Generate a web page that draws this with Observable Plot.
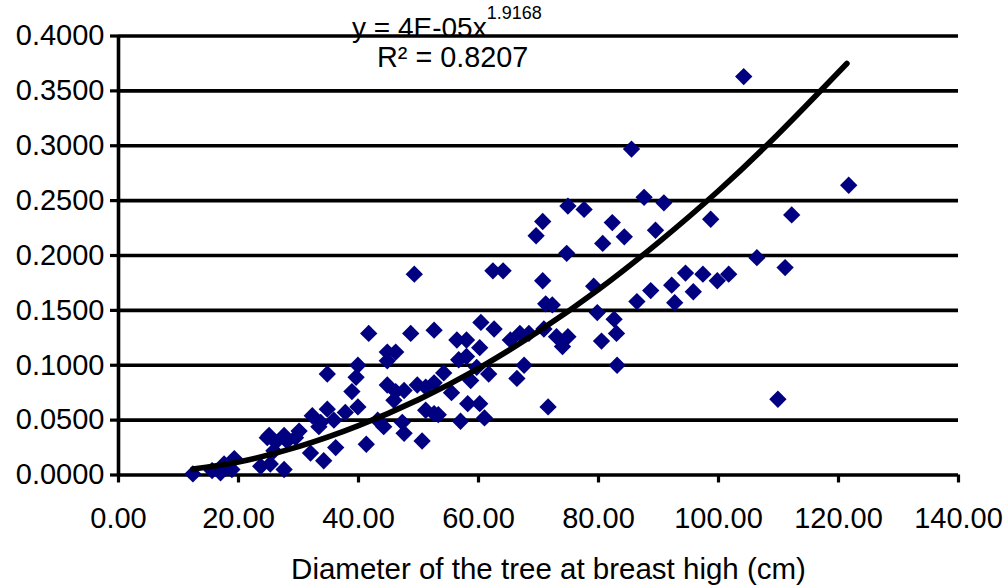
<!DOCTYPE html>
<html>
<head>
<meta charset="utf-8">
<script src="https://cdn.jsdelivr.net/npm/d3@7"></script>
<script src="https://cdn.jsdelivr.net/npm/@observablehq/plot@0.6"></script>
<style>
  html, body { margin: 0; padding: 0; background: #fff; }
  #wrap { position: relative; width: 1008px; height: 588px; font-family: "Liberation Sans", Arial, sans-serif; }
  .eq { position: absolute; font-size: 28px; line-height: 1; white-space: nowrap; color: #000; }
  .eq sup { font-size: 18px; position: relative; top: -10px; vertical-align: top; }
</style>
</head>
<body>
<div id="wrap">
  <div id="chart"></div>
  <div class="eq" style="left:352px; top:14px;">y = 4E-05x<sup>1.9168</sup></div>
  <div class="eq" style="left:377px; top:43px; font-size:28.8px;">R² = 0.8207</div>
</div>
<script>
// Observed trees: diameter at breast height (cm) and volume
const diameter = [12.4,15.6,17.0,17.6,17.8,18.9,19.3,23.7,24.8,25.1,25.3,25.9,26.2,27.6,27.6,28.1,29.5,30.1,32.0,32.3,33.4,33.7,34.2,34.8,34.8,35.9,36.2,37.8,38.9,39.6,39.9,39.9,41.3,41.7,43.2,44.2,44.8,46.2,44.8,44.8,46.2,47.6,45.9,47.3,47.6,48.7,49.3,49.8,50.6,51.2,51.2,52.6,52.6,53.3,52.6,54.2,55.5,56.4,56.7,57.0,58.0,58.0,58.2,58.7,59.7,60.2,60.2,60.4,61.0,61.7,62.4,64.1,62.6,65.3,66.4,66.9,67.6,68.4,69.6,70.7,70.7,70.9,71.2,72.3,71.6,73.0,74.0,74.9,74.7,74.9,77.6,79.2,79.8,80.5,80.7,82.3,82.6,83.0,83.1,84.3,85.5,86.4,87.6,88.7,89.5,90.9,92.2,92.7,94.5,95.8,97.4,98.7,99.8,101.7,104.2,106.4,109.9,111.1,112.2,121.7];
const volume   = [0.001,0.004,0.002,0.010,0.006,0.005,0.015,0.008,0.034,0.036,0.010,0.022,0.030,0.036,0.005,0.031,0.034,0.040,0.020,0.054,0.044,0.048,0.013,0.092,0.060,0.050,0.025,0.057,0.076,0.089,0.100,0.062,0.028,0.129,0.050,0.044,0.112,0.112,0.104,0.082,0.076,0.077,0.068,0.048,0.038,0.129,0.183,0.082,0.031,0.080,0.059,0.084,0.056,0.055,0.132,0.093,0.075,0.123,0.105,0.049,0.123,0.108,0.065,0.086,0.098,0.116,0.065,0.139,0.052,0.092,0.186,0.186,0.133,0.123,0.088,0.129,0.100,0.129,0.218,0.231,0.177,0.133,0.156,0.155,0.062,0.126,0.117,0.126,0.202,0.245,0.242,0.172,0.148,0.122,0.211,0.230,0.142,0.129,0.100,0.217,0.297,0.158,0.253,0.168,0.223,0.248,0.173,0.157,0.184,0.167,0.183,0.233,0.177,0.183,0.363,0.198,0.069,0.189,0.237,0.264];

// Power trendline
const trendX = [12.4,20,30,40,50,60,70,80,90,100,110,121.4];
const trendY = [0.0055,0.0118,0.0258,0.0449,0.0687,0.0972,0.1308,0.169,0.212,0.259,0.311,0.375];

// Tick values
const xTicks = [0,20,40,60,80,100,120,140];
const yTicks = [0,0.05,0.1,0.15,0.2,0.25,0.3,0.35,0.4];
const xTitle = "Diameter of the tree at breast high (cm)";

const points = diameter.map((d, i) => ({d, v: volume[i]}));
const trend = trendX.map((x, i) => ({x, y: trendY[i]}));

const chart = Plot.plot({
  width: 1008,
  height: 588,
  marginLeft: 118,
  marginRight: 50,
  marginTop: 35.5,
  marginBottom: 113.5,
  style: {fontFamily: "'Liberation Sans', Arial, sans-serif", fontSize: "29px", color: "#000", background: "#fff", overflow: "visible"},
  x: {domain: [0, 140]},
  y: {domain: [0, 0.4]},
  marks: [
    Plot.ruleY(yTicks, {stroke: "#000", strokeWidth: 3.6}),
    Plot.ruleX([0], {y1: 0, y2: 0.4, stroke: "#000", strokeWidth: 3.6}),
    Plot.axisY({ticks: yTicks, tickFormat: d3.format(".4f"), tickSize: 8, tickPadding: 6, strokeWidth: 3.2, label: null, fontSize: 29}),
    Plot.axisX({ticks: xTicks, tickFormat: d3.format(".2f"), tickSize: 8, tickPadding: 24, strokeWidth: 3.2, label: null, fontSize: 29}),
    Plot.text([xTitle], {frameAnchor: "bottom", dx: 10, dy: 95, fontSize: 29.5, lineAnchor: "middle"}),
    Plot.dot(points, {x: "d", y: "v", symbol: "diamond2", r: 7.8, fill: "#000080", stroke: "none"}),
    Plot.line(trend, {x: "x", y: "y", curve: "natural", stroke: "#000", strokeWidth: 5.6})
  ]
});
document.getElementById("chart").appendChild(chart);
</script>
</body>
</html>
